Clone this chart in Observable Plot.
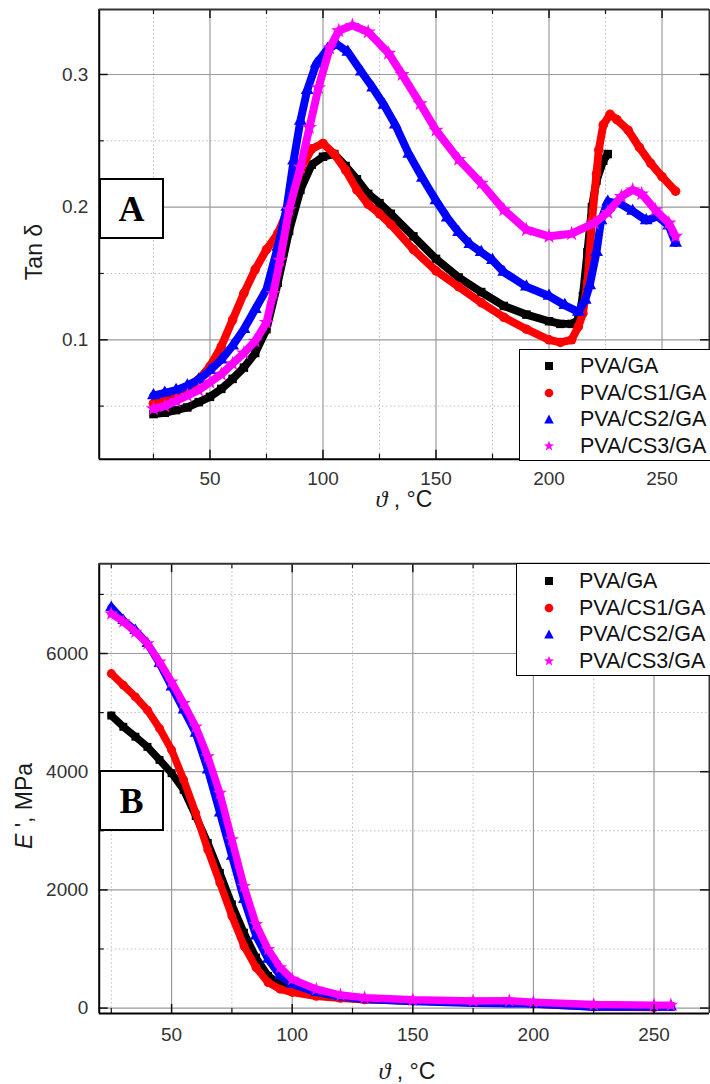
<!DOCTYPE html>
<html>
<head>
<meta charset="utf-8">
<script src="https://cdn.jsdelivr.net/npm/d3@7"></script>
<script src="https://cdn.jsdelivr.net/npm/@observablehq/plot@0.6"></script>
<style>
html,body{margin:0;padding:0;background:#fff;}
body{width:710px;height:1084px;overflow:hidden;position:relative;font-family:"Liberation Sans",Arial,sans-serif;}
.panel{position:absolute;left:0;}
.lbl{position:absolute;color:#1a1a1a;font-size:23px;line-height:1;white-space:nowrap;transform:translate(-50%,-50%);}
.lbl.rot{transform:translate(-50%,-50%) rotate(-90deg);}
.tag{position:absolute;border:2px solid #000;background:#fff;box-sizing:border-box;font-family:"Liberation Serif","Times New Roman",serif;font-weight:bold;font-size:36px;display:flex;align-items:center;justify-content:center;color:#000;}
.legend{position:absolute;border:1.5px solid #000;background:#fff;box-sizing:border-box;}
.legend .row{position:absolute;left:0;width:260px;height:0;}
.legend .row svg{position:absolute;top:-6px;}
.legend .row span{position:absolute;top:-13px;font-size:21.5px;line-height:26px;color:#111;}
</style>
</head>
<body>
<div id="top" class="panel" style="top:0"></div>
<div id="bot" class="panel" style="top:520px"></div>
<script>
// ---------- series ----------
const seriesNames = ["PVA/GA", "PVA/CS1/GA", "PVA/CS2/GA", "PVA/CS3/GA"];
const seriesColors = ["#000000", "#ff0000", "#0000ff", "#ff00ff"];
const seriesSymbols = ["square", "circle", "triangle", "star"];

// ---------- Panel A: tan delta vs temperature ----------
const tanT_GA = [25,30,35,40,45,50,55,60,65,70,75,80,85,90,95,100,105,110,115,120,125,130,140,150,160,170,180,190,200,205,210,213,215,217,219,221,224,226];
const tan_GA  = [0.044,0.045,0.047,0.049,0.053,0.057,0.063,0.0705,0.079,0.090,0.108,0.143,0.182,0.213,0.232,0.238,0.240,0.231,0.221,0.210,0.203,0.195,0.178,0.161,0.147,0.136,0.1255,0.119,0.114,0.112,0.112,0.115,0.133,0.166,0.200,0.220,0.235,0.240];

const tanT_CS1 = [25,30,35,40,45,50,55,60,65,70,75,80,85,90,95,100,105,110,115,120,125,130,140,150,160,170,180,190,200,205,210,213,215,217,219,221,222,224,227,230,235,240,245,250,256];
const tan_CS1  = [0.052,0.054,0.057,0.062,0.070,0.080,0.095,0.115,0.135,0.153,0.168,0.180,0.200,0.228,0.244,0.248,0.240,0.228,0.213,0.202,0.195,0.187,0.168,0.152,0.140,0.128,0.117,0.108,0.100,0.098,0.100,0.110,0.120,0.143,0.190,0.225,0.243,0.262,0.270,0.266,0.258,0.245,0.233,0.223,0.212];

const tanT_CS2 = [25,30,35,40,45,50,55,60,65,70,75,80,84,87,90,93,97,102,106,111,117,122,127,132,138,144,150,155,160,165,170,175,180,190,200,207,213,216,218,221,223,226,231,237,243,248,253,256];
const tan_CS2  = [0.058,0.060,0.062,0.0655,0.070,0.077,0.085,0.0955,0.108,0.123,0.138,0.170,0.200,0.235,0.265,0.288,0.308,0.319,0.323,0.317,0.302,0.290,0.277,0.262,0.240,0.222,0.205,0.192,0.181,0.172,0.166,0.160,0.151,0.140,0.133,0.126,0.121,0.130,0.141,0.166,0.190,0.204,0.203,0.197,0.190,0.193,0.186,0.173];

const tanT_CS3 = [25,30,35,40,45,50,55,60,65,70,75,78,81,85,90,94,98,103,107,113,120,129,135,143,150,160,170,180,190,200,210,220,226,232,237,241,247,253,256];
const tan_CS3  = [0.048,0.050,0.054,0.058,0.062,0.068,0.074,0.082,0.090,0.099,0.113,0.135,0.160,0.198,0.230,0.260,0.290,0.320,0.333,0.337,0.332,0.316,0.300,0.278,0.258,0.236,0.218,0.198,0.183,0.178,0.180,0.188,0.196,0.208,0.213,0.210,0.198,0.188,0.178];

// ---------- Panel B: storage modulus E' vs temperature ----------
const eT = [25,30,35,40,45,50,55,60,65,70,75,80,85,90,95,100,110,120,130,150,175,190,200,225,250,257];
const E_GA  = [4950,4760,4592,4420,4200,3975,3693,3250,2794,2288,1754,1276,855,545,405,320,236,180,150,120,100,95,80,50,30,25];
const E_CS1 = [5660,5464,5266,5042,4733,4368,3862,3300,2681,2120,1557,1051,686,433,320,265,200,165,140,120,110,110,70,20,10,30];
const E_CS2 = [6780,6560,6391,6167,5830,5435,5042,4649,4030,3300,2568,1838,1219,826,545,405,265,190,150,110,80,75,70,20,20,20];
const E_CS3 = [6673,6540,6363,6167,5860,5520,5155,4761,4255,3637,2850,2062,1417,995,686,489,320,220,175,140,120,125,100,60,50,50];

// ---------- ticks ----------
const xMajorTicks = [50,100,150,200,250];
const xMinorTicks = [25,75,125,175,225];
const tanMajorTicks = [0.1,0.2,0.3];
const tanMinorTicks = [0.05,0.15,0.25];
const eMajorTicks = [0,2000,4000,6000];
const eMinorTicks = [1000,3000,5000,7000];

function table(Ts, Vs) {
  const rows = [];
  Ts.forEach((T, s) => T.forEach((t, i) => rows.push({s: seriesNames[s], t, v: Vs[s][i]})));
  return rows;
}
const tanData = table([tanT_GA, tanT_CS1, tanT_CS2, tanT_CS3], [tan_GA, tan_CS1, tan_CS2, tan_CS3]);
const eData = table([eT, eT, eT, eT], [E_GA, E_CS1, E_CS2, E_CS3]);

function chart({data, height, mt, mb, xDomain, yDomain, yMajor, yMinor, yFmt, lw}) {
  const width = 712, ml = 99, mr = 1;
  const ph = height - mt - mb, pw = width - ml - mr;
  const marks = [
    Plot.ruleX(xMinorTicks, {x: d => d, stroke: "#bdbdbd", strokeDasharray: "1.5,2.5"}),
    Plot.ruleY(yMinor, {y: d => d, stroke: "#bdbdbd", strokeDasharray: "1.5,2.5"}),
    Plot.ruleX(xMajorTicks, {x: d => d, stroke: "#9a9a9a", strokeWidth: 1.2}),
    Plot.ruleY(yMajor, {y: d => d, stroke: "#9a9a9a", strokeWidth: 1.2})
  ];
  seriesNames.forEach((name, i) => {
    const d = data.filter(r => r.s === name);
    marks.push(Plot.line(d, {x: "t", y: "v", stroke: seriesColors[i], strokeWidth: lw, strokeLinejoin: "round", strokeLinecap: "round", curve: "linear"}));
    marks.push(Plot.dot(d, {x: "t", y: "v", symbol: seriesSymbols[i], fill: seriesColors[i], r: lw * 0.6}));
  });
  marks.push(
    // inward ticks
    Plot.tickX(xMajorTicks, {x: d => d, insetTop: ph - 9, stroke: "#111", strokeWidth: 1.5}),
    Plot.tickX(xMinorTicks, {x: d => d, insetTop: ph - 5, stroke: "#111", strokeWidth: 1.2}),
    Plot.tickX(xMajorTicks, {x: d => d, insetBottom: ph - 9, stroke: "#111", strokeWidth: 1.5}),
    Plot.tickX(xMinorTicks, {x: d => d, insetBottom: ph - 5, stroke: "#111", strokeWidth: 1.2}),
    Plot.tickY(yMajor, {y: d => d, insetRight: pw - 9, stroke: "#111", strokeWidth: 1.5}),
    Plot.tickY(yMinor, {y: d => d, insetRight: pw - 5, stroke: "#111", strokeWidth: 1.2}),
    Plot.tickY(yMajor, {y: d => d, insetLeft: pw - 9, stroke: "#111", strokeWidth: 1.5}),
    // frame
    Plot.ruleX([xDomain[0]], {x: d => d, stroke: "#000", strokeWidth: 2}),
    Plot.ruleY([yDomain[0]], {y: d => d, stroke: "#000", strokeWidth: 2}),
    Plot.ruleY([yDomain[1]], {y: d => d, stroke: "#333", strokeWidth: 2}),
    Plot.ruleX([xDomain[1]], {x: d => d, stroke: "#333", strokeWidth: 2}),
    Plot.axisX(xMajorTicks, {tickSize: 0, tickPadding: mb > 65 ? 14 : 12, label: null, fontSize: 19}),
    Plot.axisY(yMajor, {tickSize: 0, tickPadding: 11, label: null, tickFormat: yFmt, fontSize: 19})
  );
  return Plot.plot({
    width, height,
    marginLeft: ml, marginRight: mr, marginTop: mt, marginBottom: mb,
    x: {domain: xDomain},
    y: {domain: yDomain},
    style: {fontFamily: '"Liberation Sans", Arial, sans-serif', fontSize: "19px", color: "#333", background: "white"},
    marks
  });
}

document.getElementById("top").append(chart({
  data: tanData, height: 520, mt: 9, mb: 60,
  xDomain: [1, 271], yDomain: [0.01, 0.349],
  yMajor: tanMajorTicks, yMinor: tanMinorTicks, yFmt: d => d.toFixed(1), lw: 8
}));
document.getElementById("bot").append(chart({
  data: eData, height: 564, mt: 43.3, mb: 69.7,
  xDomain: [20, 273], yDomain: [-90, 7520],
  yMajor: eMajorTicks, yMinor: eMinorTicks, yFmt: d3.format("d"), lw: 7.5
}));

// ---------- overlays: axis labels, panel tags, legends ----------
function addLabel(html, x, y, rot) {
  const d = document.createElement("div");
  d.className = "lbl" + (rot ? " rot" : "");
  d.style.left = x + "px"; d.style.top = y + "px";
  d.innerHTML = html;
  document.body.append(d);
}
const thetaLabel = '<i style="font-family:\'Liberation Serif\',serif;font-size:24px">ϑ</i> , °C';
addLabel(thetaLabel, 404, 499, false);
addLabel(thetaLabel, 407, 1071, false);
addLabel("Tan δ", 34, 252, true);
addLabel("<i>E</i> ', MPa", 24, 806, true);

function addTag(text, x, y, w, h) {
  const d = document.createElement("div");
  d.className = "tag";
  Object.assign(d.style, {left: x + "px", top: y + "px", width: w + "px", height: h + "px"});
  d.textContent = text;
  document.body.append(d);
}
addTag("A", 99, 178, 65, 61);
addTag("B", 99, 770, 65, 61);

function markerSVG(sym, color) {
  const shapes = {
    square: '<rect x="2" y="2" width="8" height="8" fill="' + color + '"/>',
    circle: '<circle cx="6" cy="6" r="4.3" fill="' + color + '"/>',
    triangle: '<polygon points="6,1.5 10.8,10.5 1.2,10.5" fill="' + color + '"/>',
    star: '<polygon points="6,0.8 7.3,4.3 11,4.4 8.1,6.7 9.2,10.4 6,8.3 2.8,10.4 3.9,6.7 1,4.4 4.7,4.3" fill="' + color + '"/>'
  };
  return '<svg width="12" height="12" viewBox="0 0 12 12">' + shapes[sym] + '</svg>';
}
function addLegend(x, y, w, h, markerX, textX, rowYs) {
  const box = document.createElement("div");
  box.className = "legend";
  Object.assign(box.style, {left: x + "px", top: y + "px", width: w + "px", height: h + "px"});
  seriesNames.forEach((name, i) => {
    const row = document.createElement("div");
    row.className = "row";
    row.style.top = rowYs[i] + "px";
    row.innerHTML = markerSVG(seriesSymbols[i], seriesColors[i]).replace("<svg ", '<svg style="left:' + (markerX - 6) + 'px" ') +
      '<span style="left:' + textX + 'px">' + name + '</span>';
    box.append(row);
  });
  document.body.append(box);
}
addLegend(519, 349, 230, 112, 29, 60, [16, 42.7, 69.3, 96]);
addLegend(516, 563, 230, 113, 32, 62, [17, 43.7, 70, 97]);
</script>
</body>
</html>
